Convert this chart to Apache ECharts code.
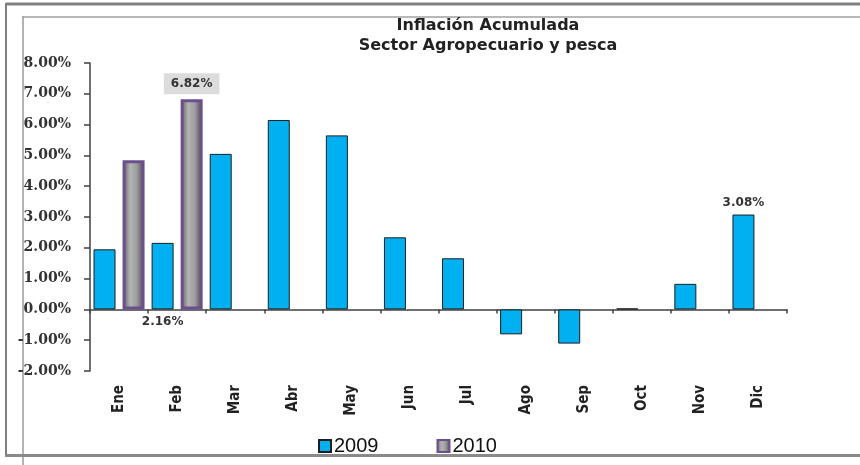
<!DOCTYPE html>
<html>
<head>
<meta charset="utf-8">
<script src="https://cdn.jsdelivr.net/npm/echarts@6/dist/echarts.min.js"></script>
<style>
  html, body { margin: 0; padding: 0; background: #fff; }
  #chart { width: 860px; height: 465px; }
</style>
</head>
<body>
<div id="chart"></div>
<script>
(function(){
  'use strict';

  /*
    datos
  */
  var months   = ['Ene', 'Feb', 'Mar', 'Abr', 'May', 'Jun', 'Jul', 'Ago', 'Sep', 'Oct', 'Nov', 'Dic'];
  var infl2009 = [1.95, 2.16, 5.05, 6.15, 5.65, 2.34, 1.66, -0.81, -1.11, 0.03, 0.83, 3.08];
  var infl2010 = [4.84, 6.82, '-', '-', '-', '-', '-', '-', '-', '-', '-', '-'];
  var yTicks   = {min: -2, max: 8, step: 1};

  var pct = function(v){ return Number(v).toFixed(2) + '%'; };

  var labelBase = {
    show: true,
    fontFamily: 'DejaVu Sans',
    fontWeight: 'bold',
    fontSize: 12,
    color: '#333',
    formatter: function(p){ return pct(p.value); }
  };

  // etiquetas solo en algunos puntos
  var data2009 = infl2009.map(function(v, i){
    if (i === 1) return {value: v, label: Object.assign({}, labelBase, {position: 'bottom', distance: 6})};
    if (i === 11) return {value: v, label: Object.assign({}, labelBase, {position: 'top', distance: 6})};
    return v;
  });
  var data2010 = infl2010.map(function(v, i){
    if (i === 1) return {value: v, label: Object.assign({}, labelBase, {
      position: 'top', distance: 5, backgroundColor: '#dcdcdc', padding: [5, 7, 4, 7]
    })};
    return v;
  });

  var grayFill = new echarts.graphic.LinearGradient(0, 0, 1, 0, [
    {offset: 0, color: '#5a5a5a'},
    {offset: 0.35, color: '#b4b4b4'},
    {offset: 0.65, color: '#9c9c9c'},
    {offset: 1, color: '#474747'}
  ]);

  var axisColor = '#404040';

  var option = {
    animation: false,
    backgroundColor: '#fff',
    title: {
      text: 'Inflación Acumulada\nSector Agropecuario y pesca',
      left: 483,
      top: 11,
      textAlign: 'center',
      textStyle: {
        fontFamily: 'DejaVu Sans',
        fontWeight: 'bold',
        fontSize: 16,
        lineHeight: 20,
        color: '#222'
      }
    },
    legend: {
      left: 313,
      top: 431,
      itemWidth: 12,
      itemHeight: 12,
      itemGap: 58,
      icon: 'rect',
      textStyle: {fontFamily: 'Liberation Sans', fontSize: 20, color: '#111', padding: [0, 0, 0, -2]},
      data: ['2009', '2010']
    },
    grid: {left: 90, right: 73, top: 63, bottom: 94},
    xAxis: [{
      type: 'category',
      data: months,
      axisLine: {onZero: true, lineStyle: {color: axisColor, width: 1.5}},
      axisTick: {show: true, length: 4, lineStyle: {color: axisColor, width: 1.5}},
      axisLabel: {show: false},
      splitLine: {show: false}
    }, {
      type: 'category',
      data: months,
      position: 'bottom',
      axisLine: {show: false, onZero: false},
      axisTick: {show: false},
      axisLabel: {
        rotate: 90,
        margin: 14,
        fontFamily: "'Liberation Sans Narrow', 'DejaVu Sans Condensed', 'Liberation Sans', sans-serif",
        fontWeight: 'bold',
        fontSize: 15,
        color: '#222'
      }
    }],
    yAxis: {
      type: 'value',
      min: yTicks.min,
      max: yTicks.max,
      interval: yTicks.step,
      axisLine: {show: true, lineStyle: {color: axisColor, width: 1.5}},
      axisTick: {show: true, length: 6, lineStyle: {color: axisColor, width: 1.5}},
      splitLine: {show: false},
      axisLabel: {
        margin: 19,
        fontFamily: 'DejaVu Serif',
        fontWeight: 'bold',
        fontSize: 14,
        color: '#333',
        formatter: function(v){ return pct(v); }
      }
    },
    series: [{
      name: '2009',
      type: 'bar',
      xAxisIndex: 0,
      barWidth: 22,
      barGap: '32%',
      itemStyle: {color: '#00b0f0', borderColor: '#1e1e1e', borderWidth: 1},
      data: data2009
    }, {
      name: '2010',
      type: 'bar',
      xAxisIndex: 0,
      barWidth: 22,
      itemStyle: {color: grayFill, borderColor: '#6b4f8e', borderWidth: 3},
      data: data2010
    }],
    // marco del grafico (copia del borde de Excel)
    graphic: [
      {type: 'line', shape: {x1: 6, y1: 4, x2: 860, y2: 4}, style: {stroke: '#808080', lineWidth: 3}},
      {type: 'line', shape: {x1: 23, y1: 17, x2: 860, y2: 17}, style: {stroke: '#b8b8b8', lineWidth: 2}},
      {type: 'line', shape: {x1: 6, y1: 3, x2: 6, y2: 456}, style: {stroke: '#808080', lineWidth: 2}},
      {type: 'line', shape: {x1: 23, y1: 16, x2: 23, y2: 465}, style: {stroke: '#9a9a9a', lineWidth: 1.5}},
      {type: 'line', shape: {x1: 5, y1: 455.5, x2: 860, y2: 455.5}, style: {stroke: '#8a8a8a', lineWidth: 3}}
    ]
  };

  echarts.init(document.getElementById('chart')).setOption(option);
})();
</script>
</body>
</html>
